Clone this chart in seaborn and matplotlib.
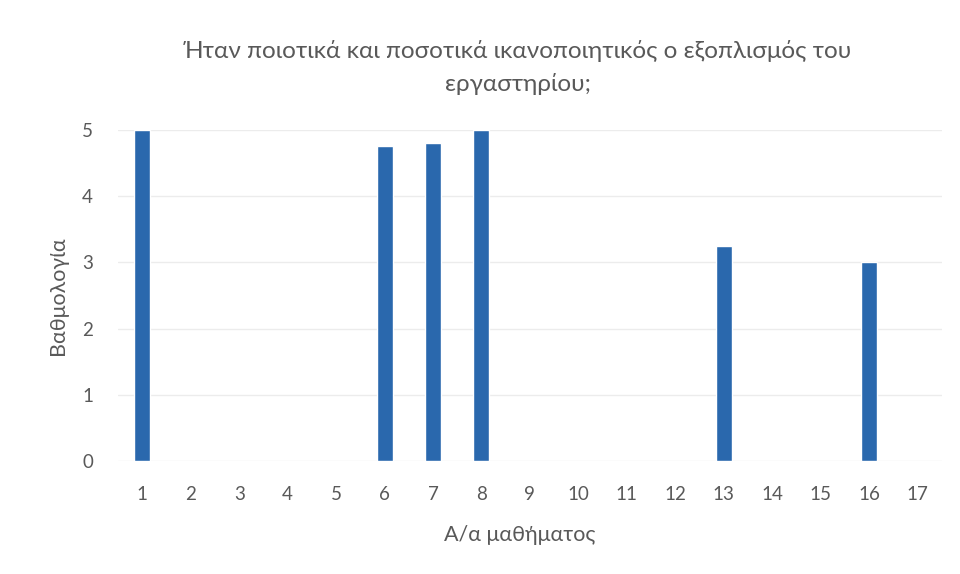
import numpy as np
import pandas as pd
import matplotlib
matplotlib.use("Agg")
import matplotlib.pyplot as plt
import seaborn as sns

# Course numbers and their equipment rating (blank = no rating)
courses = [str(i) for i in range(1, 18)]
scores = [5, np.nan, np.nan, np.nan, np.nan, 4.75, 4.8, 5, np.nan, np.nan,
          np.nan, np.nan, 3.25, np.nan, np.nan, 3, np.nan]
yticks = [0, 1, 2, 3, 4, 5]

title = "Ήταν ποιοτικά και ποσοτικά ικανοποιητικός ο εξοπλισμός του\nεργαστηρίου;"
xlabel = "Α/α μαθήματος"
ylabel = "Βαθμολογία"

sns.set_theme(style="white")
plt.rcParams["font.family"] = ["Lato", "DejaVu Sans"]

df = pd.DataFrame({"course": courses, "score": scores})

fig = plt.figure(figsize=(9.6, 5.74), dpi=100)
ax = fig.add_axes([0.123, 0.197, 0.858, 0.5767])

sns.barplot(data=df, x="course", y="score", order=courses, color="#2a68ad",
            saturation=1, width=0.33, ax=ax)

ax.set_ylim(0, 5)
ax.set_yticks(yticks)
ax.yaxis.grid(True, color="#ececec", linewidth=1)
ax.set_axisbelow(True)
for s in ax.spines.values():
    s.set_visible(False)

grey = "#595959"
ax.tick_params(axis="both", length=0, labelsize=13.5, colors=grey)
ax.tick_params(axis="x", pad=18)
ax.tick_params(axis="y", pad=18)
ax.set_xlabel(xlabel, fontsize=15.5, color=grey)
ax.set_ylabel(ylabel, fontsize=15.5, color=grey)
ax.xaxis.set_label_coords(0.487, -0.225)
ax.yaxis.set_label_coords(-0.073, 0.5)
ax.xaxis.label.set_va("center")
ax.yaxis.label.set_va("center")

fig.text(0.54, 0.93, title, ha="center", va="top", fontsize=17.5,
         color=grey, linespacing=1.6)

fig.savefig("out.png", dpi=100, facecolor="white")
